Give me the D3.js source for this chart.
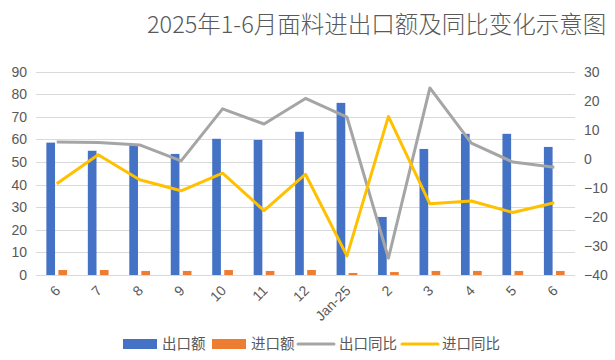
<!DOCTYPE html>
<html>
<head>
<meta charset="utf-8">
<script src="https://cdn.jsdelivr.net/npm/d3@7"></script>
<style>
  html, body { margin: 0; padding: 0; background: #fff; }
  svg { display: block; }
  text { font-family: "Liberation Sans", "Noto Sans CJK SC", sans-serif; }
</style>
</head>
<body>
<svg id="chart" width="615" height="360"></svg>
<script>
const categories = ["6","7","8","9","10","11","12","Jan-25","2","3","4","5","6"];
const exportAmt = [58.6,55.0,57.6,53.6,60.3,59.8,63.4,76.2,25.7,55.8,62.5,62.5,56.7];
const importAmt = [2.2,2.2,1.8,1.8,2.2,1.8,2.2,0.9,1.3,1.8,1.8,1.8,1.8];
const exportYoY = [5.8,5.6,4.8,-0.7,17.2,12.0,20.8,14.4,-34.2,24.4,5.4,-1.1,-2.9];
const importYoY = [-8.6,1.4,-7.2,-11.0,-4.9,-17.8,-5.3,-33.4,14.6,-15.5,-14.5,-18.5,-15.1];
const leftTicks = [0,10,20,30,40,50,60,70,80,90];
const rightTicks = [-40,-30,-20,-10,0,10,20,30];
const seriesNames = ["出口额","进口额","出口同比","进口同比"];
const colors = ["#4472c4","#ed7d31","#a5a5a5","#ffc000"];
const title = "2025年1-6月面料进出口额及同比变化示意图";

(function(){
const svg = d3.select("#chart");
const pLeft = 36, pRight = 575, pTop = 71.7, pBottom = 275;
const textColor = "#595959";

const x = d3.scaleBand().domain(d3.range(categories.length)).range([pLeft, pRight])
  .paddingInner(0.5).paddingOuter(0.25);
const xSub = d3.scaleBand().domain([0,1]).range([0, x.bandwidth()]).paddingInner(0.28);
const yL = d3.scaleLinear().domain([0,90]).range([pBottom, pTop]);
const yR = d3.scaleLinear().domain([-40,30]).range([pBottom, pTop]);

// title
svg.append("text").attr("x", 147).attr("y", 33)
  .attr("font-size", 23.5).attr("fill", textColor)
  .style("font-family", "'Noto Sans CJK SC', sans-serif").style("font-weight", 300)
  .text(title);

// gridlines
svg.append("g").selectAll("line").data(leftTicks).join("line")
  .attr("x1", pLeft).attr("x2", pRight)
  .attr("y1", d => Math.round(yL(d)) + 0.5).attr("y2", d => Math.round(yL(d)) + 0.5)
  .attr("stroke", "#d9d9d9").attr("stroke-width", 1);

// left axis
const gL = svg.append("g").attr("transform", `translate(${pLeft - 9},0)`)
  .call(d3.axisLeft(yL).tickValues(leftTicks).tickSize(0).tickPadding(0));
gL.select(".domain").remove();
gL.selectAll("text").attr("font-size", 14).attr("fill", textColor)
  .style("font-family", "'Liberation Sans', sans-serif");

// right axis
const gR = svg.append("g").attr("transform", `translate(${pRight + 9},0)`)
  .call(d3.axisRight(yR).tickValues(rightTicks).tickSize(0).tickPadding(0));
gR.select(".domain").remove();
gR.selectAll("text").attr("font-size", 14).attr("fill", textColor)
  .style("font-family", "'Liberation Sans', sans-serif");

// bars
const groups = svg.append("g").selectAll("g").data(categories.map((c,i)=>i)).join("g")
  .attr("transform", i => `translate(${x(i)},0)`);
groups.append("rect").attr("x", xSub(0)).attr("width", xSub.bandwidth())
  .attr("y", i => yL(exportAmt[i])).attr("height", i => yL(0) - yL(exportAmt[i]))
  .attr("fill", colors[0]);
groups.append("rect").attr("x", xSub(1)).attr("width", xSub.bandwidth())
  .attr("y", i => yL(importAmt[i])).attr("height", i => yL(0) - yL(importAmt[i]))
  .attr("fill", colors[1]);

// lines
const cx = i => x(i) + x.bandwidth() / 2;
const line = d3.line().x((d,i) => cx(i)).y(d => yR(d));
svg.append("path").datum(exportYoY).attr("d", line)
  .attr("fill", "none").attr("stroke", colors[2]).attr("stroke-width", 3)
  .attr("stroke-linejoin", "round");
svg.append("path").datum(importYoY).attr("d", line)
  .attr("fill", "none").attr("stroke", colors[3]).attr("stroke-width", 3)
  .attr("stroke-linejoin", "round");

// x labels
svg.append("g").selectAll("text").data(categories).join("text")
  .attr("transform", (d,i) => `translate(${cx(i) + 1},${pBottom + 13}) rotate(-45)`)
  .attr("text-anchor", "end").attr("dy", "0.35em")
  .attr("font-size", 14).attr("fill", textColor)
  .style("font-family", "'Liberation Sans', sans-serif")
  .text(d => d);

// legend
const legendY = 344;
const legendItems = [
  {type: "rect", x: 123, w: 34, tx: 162},
  {type: "rect", x: 212, w: 34, tx: 251},
  {type: "line", x: 298, w: 36, tx: 339},
  {type: "line", x: 402, w: 36, tx: 442}
];
const lg = svg.append("g");
legendItems.forEach((it, k) => {
  if (it.type === "rect") {
    lg.append("rect").attr("x", it.x).attr("y", legendY - 5).attr("width", it.w).attr("height", 10)
      .attr("fill", colors[k]);
  } else {
    lg.append("line").attr("x1", it.x).attr("x2", it.x + it.w)
      .attr("y1", legendY).attr("y2", legendY)
      .attr("stroke", colors[k]).attr("stroke-width", 3).attr("stroke-linecap", "round");
  }
  lg.append("text").attr("x", it.tx).attr("y", legendY).attr("dy", "0.36em")
    .attr("font-size", 14.5).attr("fill", textColor)
    .style("font-family", "'Noto Sans CJK SC', sans-serif")
    .text(seriesNames[k]);
});
})();
</script>
</body>
</html>
